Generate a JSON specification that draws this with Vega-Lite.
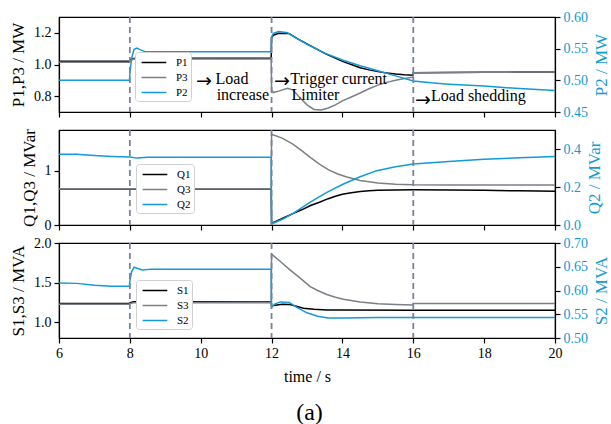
{
  "$schema": "https://vega.github.io/schema/vega-lite/v6.json",
  "padding": {"left": 8, "top": 9, "right": 2, "bottom": 0},
  "title": {"text": "(a)", "orient": "bottom", "anchor": "middle", "fontSize": 24, "font": "Liberation Serif", "fontWeight": "normal", "offset": 16, "color": "#000"},
  "datasets": {
    "p": [
      {"t": 6, "k": "P1", "v": 1.02}, {"t": 7.99, "k": "P1", "v": 1.02}, {"t": 8.0, "k": "P1", "v": 1.024}, {"t": 8.05, "k": "P1", "v": 1.036}, {"t": 8.2, "k": "P1", "v": 1.04}, {"t": 11.99, "k": "P1", "v": 1.04}, {"t": 12.0, "k": "P1", "v": 1.17}, {"t": 12.05, "k": "P1", "v": 1.185}, {"t": 12.2, "k": "P1", "v": 1.197}, {"t": 12.5, "k": "P1", "v": 1.195}, {"t": 12.75, "k": "P1", "v": 1.16}, {"t": 13.0, "k": "P1", "v": 1.13}, {"t": 13.25, "k": "P1", "v": 1.1}, {"t": 13.5, "k": "P1", "v": 1.07}, {"t": 13.75, "k": "P1", "v": 1.045}, {"t": 14.0, "k": "P1", "v": 1.02}, {"t": 14.25, "k": "P1", "v": 1.0}, {"t": 14.5, "k": "P1", "v": 0.98}, {"t": 14.75, "k": "P1", "v": 0.966}, {"t": 15.0, "k": "P1", "v": 0.955}, {"t": 15.25, "k": "P1", "v": 0.947}, {"t": 15.5, "k": "P1", "v": 0.94}, {"t": 15.75, "k": "P1", "v": 0.935}, {"t": 15.99, "k": "P1", "v": 0.932}, {"t": 16.0, "k": "P1", "v": 0.948}, {"t": 17, "k": "P1", "v": 0.95}, {"t": 18, "k": "P1", "v": 0.951}, {"t": 19, "k": "P1", "v": 0.952}, {"t": 20, "k": "P1", "v": 0.953},
      {"t": 6, "k": "P3", "v": 1.014}, {"t": 7.99, "k": "P3", "v": 1.014}, {"t": 8.0, "k": "P3", "v": 1.02}, {"t": 8.1, "k": "P3", "v": 1.035}, {"t": 11.99, "k": "P3", "v": 1.035}, {"t": 12.0, "k": "P3", "v": 0.84}, {"t": 12.05, "k": "P3", "v": 0.823}, {"t": 12.2, "k": "P3", "v": 0.832}, {"t": 12.45, "k": "P3", "v": 0.85}, {"t": 12.6, "k": "P3", "v": 0.84}, {"t": 12.8, "k": "P3", "v": 0.79}, {"t": 13.0, "k": "P3", "v": 0.745}, {"t": 13.2, "k": "P3", "v": 0.716}, {"t": 13.4, "k": "P3", "v": 0.713}, {"t": 13.6, "k": "P3", "v": 0.725}, {"t": 13.8, "k": "P3", "v": 0.745}, {"t": 14.0, "k": "P3", "v": 0.77}, {"t": 14.25, "k": "P3", "v": 0.795}, {"t": 14.5, "k": "P3", "v": 0.82}, {"t": 14.75, "k": "P3", "v": 0.847}, {"t": 15.0, "k": "P3", "v": 0.87}, {"t": 15.25, "k": "P3", "v": 0.887}, {"t": 15.5, "k": "P3", "v": 0.9}, {"t": 15.75, "k": "P3", "v": 0.912}, {"t": 15.99, "k": "P3", "v": 0.92}, {"t": 16.0, "k": "P3", "v": 0.948}, {"t": 17, "k": "P3", "v": 0.95}, {"t": 18, "k": "P3", "v": 0.951}, {"t": 19, "k": "P3", "v": 0.952}, {"t": 20, "k": "P3", "v": 0.953},
      {"t": 6, "k": "P2", "v": 0.5}, {"t": 7.99, "k": "P2", "v": 0.5}, {"t": 8.0, "k": "P2", "v": 0.51}, {"t": 8.05, "k": "P2", "v": 0.535}, {"t": 8.12, "k": "P2", "v": 0.549}, {"t": 8.2, "k": "P2", "v": 0.551}, {"t": 8.3, "k": "P2", "v": 0.548}, {"t": 8.45, "k": "P2", "v": 0.545}, {"t": 11.99, "k": "P2", "v": 0.545}, {"t": 12.0, "k": "P2", "v": 0.568}, {"t": 12.05, "k": "P2", "v": 0.574}, {"t": 12.2, "k": "P2", "v": 0.577}, {"t": 12.45, "k": "P2", "v": 0.575}, {"t": 12.75, "k": "P2", "v": 0.565}, {"t": 13.0, "k": "P2", "v": 0.557}, {"t": 13.5, "k": "P2", "v": 0.543}, {"t": 14.0, "k": "P2", "v": 0.532}, {"t": 14.5, "k": "P2", "v": 0.523}, {"t": 15.0, "k": "P2", "v": 0.515}, {"t": 15.5, "k": "P2", "v": 0.507}, {"t": 16.0, "k": "P2", "v": 0.499}, {"t": 16.5, "k": "P2", "v": 0.496}, {"t": 17, "k": "P2", "v": 0.494}, {"t": 18, "k": "P2", "v": 0.491}, {"t": 19, "k": "P2", "v": 0.487}, {"t": 20, "k": "P2", "v": 0.484}
    ],
    "q": [
      {"t": 6, "k": "Q1", "v": 0.66}, {"t": 11.99, "k": "Q1", "v": 0.66}, {"t": 12.0, "k": "Q1", "v": 0.03}, {"t": 12.3, "k": "Q1", "v": 0.12}, {"t": 12.6, "k": "Q1", "v": 0.21}, {"t": 12.85, "k": "Q1", "v": 0.28}, {"t": 13.1, "k": "Q1", "v": 0.36}, {"t": 13.35, "k": "Q1", "v": 0.42}, {"t": 13.6, "k": "Q1", "v": 0.485}, {"t": 13.8, "k": "Q1", "v": 0.53}, {"t": 14.0, "k": "Q1", "v": 0.565}, {"t": 14.25, "k": "Q1", "v": 0.595}, {"t": 14.5, "k": "Q1", "v": 0.615}, {"t": 14.75, "k": "Q1", "v": 0.63}, {"t": 15.0, "k": "Q1", "v": 0.638}, {"t": 15.5, "k": "Q1", "v": 0.646}, {"t": 16, "k": "Q1", "v": 0.65}, {"t": 17, "k": "Q1", "v": 0.647}, {"t": 18, "k": "Q1", "v": 0.638}, {"t": 19, "k": "Q1", "v": 0.63}, {"t": 20, "k": "Q1", "v": 0.622},
      {"t": 6, "k": "Q3", "v": 0.665}, {"t": 11.99, "k": "Q3", "v": 0.665}, {"t": 12.0, "k": "Q3", "v": 1.67}, {"t": 12.3, "k": "Q3", "v": 1.6}, {"t": 12.6, "k": "Q3", "v": 1.49}, {"t": 12.85, "k": "Q3", "v": 1.37}, {"t": 13.1, "k": "Q3", "v": 1.24}, {"t": 13.35, "k": "Q3", "v": 1.12}, {"t": 13.6, "k": "Q3", "v": 1.02}, {"t": 13.85, "k": "Q3", "v": 0.945}, {"t": 14.1, "k": "Q3", "v": 0.89}, {"t": 14.5, "k": "Q3", "v": 0.82}, {"t": 15.0, "k": "Q3", "v": 0.775}, {"t": 15.5, "k": "Q3", "v": 0.752}, {"t": 16, "k": "Q3", "v": 0.742}, {"t": 17, "k": "Q3", "v": 0.739}, {"t": 18, "k": "Q3", "v": 0.738}, {"t": 20, "k": "Q3", "v": 0.737},
      {"t": 6, "k": "Q2", "v": 0.373}, {"t": 6.5, "k": "Q2", "v": 0.372}, {"t": 7.0, "k": "Q2", "v": 0.366}, {"t": 7.5, "k": "Q2", "v": 0.361}, {"t": 8.0, "k": "Q2", "v": 0.358}, {"t": 8.2, "k": "Q2", "v": 0.352}, {"t": 8.5, "k": "Q2", "v": 0.356}, {"t": 11.99, "k": "Q2", "v": 0.356}, {"t": 12.0, "k": "Q2", "v": 0.005}, {"t": 12.3, "k": "Q2", "v": 0.03}, {"t": 12.61, "k": "Q2", "v": 0.061}, {"t": 13.08, "k": "Q2", "v": 0.119}, {"t": 13.56, "k": "Q2", "v": 0.172}, {"t": 14.03, "k": "Q2", "v": 0.216}, {"t": 14.5, "k": "Q2", "v": 0.254}, {"t": 14.97, "k": "Q2", "v": 0.286}, {"t": 15.5, "k": "Q2", "v": 0.307}, {"t": 16.0, "k": "Q2", "v": 0.321}, {"t": 17, "k": "Q2", "v": 0.334}, {"t": 18, "k": "Q2", "v": 0.346}, {"t": 19, "k": "Q2", "v": 0.354}, {"t": 20, "k": "Q2", "v": 0.361}
    ],
    "s": [
      {"t": 6, "k": "S1", "v": 1.235}, {"t": 7.99, "k": "S1", "v": 1.235}, {"t": 8.0, "k": "S1", "v": 1.245}, {"t": 8.1, "k": "S1", "v": 1.257}, {"t": 11.99, "k": "S1", "v": 1.255}, {"t": 12.0, "k": "S1", "v": 1.2}, {"t": 12.1, "k": "S1", "v": 1.215}, {"t": 12.3, "k": "S1", "v": 1.225}, {"t": 12.52, "k": "S1", "v": 1.222}, {"t": 12.75, "k": "S1", "v": 1.195}, {"t": 12.9, "k": "S1", "v": 1.175}, {"t": 13.2, "k": "S1", "v": 1.162}, {"t": 13.56, "k": "S1", "v": 1.155}, {"t": 14, "k": "S1", "v": 1.153}, {"t": 16, "k": "S1", "v": 1.152}, {"t": 20, "k": "S1", "v": 1.152},
      {"t": 6, "k": "S3", "v": 1.225}, {"t": 7.99, "k": "S3", "v": 1.225}, {"t": 8.0, "k": "S3", "v": 1.235}, {"t": 8.1, "k": "S3", "v": 1.245}, {"t": 11.99, "k": "S3", "v": 1.245}, {"t": 12.0, "k": "S3", "v": 1.86}, {"t": 12.05, "k": "S3", "v": 1.84}, {"t": 12.24, "k": "S3", "v": 1.77}, {"t": 12.52, "k": "S3", "v": 1.66}, {"t": 12.8, "k": "S3", "v": 1.56}, {"t": 13.09, "k": "S3", "v": 1.45}, {"t": 13.3, "k": "S3", "v": 1.4}, {"t": 13.56, "k": "S3", "v": 1.35}, {"t": 13.8, "k": "S3", "v": 1.315}, {"t": 14.03, "k": "S3", "v": 1.29}, {"t": 14.5, "k": "S3", "v": 1.255}, {"t": 15.0, "k": "S3", "v": 1.232}, {"t": 15.5, "k": "S3", "v": 1.222}, {"t": 15.99, "k": "S3", "v": 1.217}, {"t": 16.0, "k": "S3", "v": 1.237}, {"t": 20, "k": "S3", "v": 1.237},
      {"t": 6, "k": "S2", "v": 0.616}, {"t": 6.5, "k": "S2", "v": 0.615}, {"t": 7.0, "k": "S2", "v": 0.611}, {"t": 7.5, "k": "S2", "v": 0.609}, {"t": 7.99, "k": "S2", "v": 0.609}, {"t": 8.0, "k": "S2", "v": 0.62}, {"t": 8.05, "k": "S2", "v": 0.64}, {"t": 8.12, "k": "S2", "v": 0.649}, {"t": 8.2, "k": "S2", "v": 0.647}, {"t": 8.35, "k": "S2", "v": 0.643}, {"t": 8.6, "k": "S2", "v": 0.645}, {"t": 11.99, "k": "S2", "v": 0.645}, {"t": 12.0, "k": "S2", "v": 0.565}, {"t": 12.1, "k": "S2", "v": 0.572}, {"t": 12.25, "k": "S2", "v": 0.576}, {"t": 12.5, "k": "S2", "v": 0.575}, {"t": 12.7, "k": "S2", "v": 0.565}, {"t": 13.0, "k": "S2", "v": 0.553}, {"t": 13.3, "k": "S2", "v": 0.546}, {"t": 13.6, "k": "S2", "v": 0.542}, {"t": 14, "k": "S2", "v": 0.542}, {"t": 15, "k": "S2", "v": 0.543}, {"t": 20, "k": "S2", "v": 0.543}
    ],
    "ev": [{"t": 8}, {"t": 12}, {"t": 16}],
    "ann": [
      {"t": 10.42, "v": 0.877, "label": "Load"},
      {"t": 10.45, "v": 0.777, "label": "increase"},
      {"t": 12.53, "v": 0.877, "label": "Trigger current"},
      {"t": 12.56, "v": 0.777, "label": "Limiter"},
      {"t": 16.5, "v": 0.77, "label": "Load shedding"}
    ],
    "arr": [
      {"t": 9.87, "v": 0.898, "label": "→"},
      {"t": 12.07, "v": 0.898, "label": "→"},
      {"t": 16.05, "v": 0.777, "label": "→"}
    ]
  },
  "resolve": {"scale": {"color": "independent"}, "legend": {"color": "independent"}},
  "spacing": 18,
  "bounds": "flush",
  "vconcat": [
    {
      "width": 496, "height": 95,
      "layer": [
        {
          "data": {"name": "p"}, "transform": [{"filter": "datum.k !== 'P2'"}],
          "mark": {"type": "line", "strokeWidth": 1.5, "clip": true},
          "encoding": {
            "x": {"field": "t", "type": "quantitative", "scale": {"domain": [6, 20], "nice": false, "zero": false}, "axis": {"values": [6, 8, 10, 12, 14, 16, 18, 20], "labels": false, "title": null}},
            "y": {"field": "v", "type": "quantitative", "scale": {"domain": [0.7, 1.3], "nice": false, "zero": false}, "axis": {"values": [0.8, 1.0, 1.2], "format": ".1f", "title": "P1,P3 / MW"}},
            "color": {"field": "k", "type": "nominal", "scale": {"domain": ["P1", "P3", "P2"], "range": ["#000000", "#7b7f86", "#129ad6"]}, "legend": {"orient": "none", "legendX": 76, "legendY": 35}}
          }
        },
        {
          "data": {"name": "p"}, "transform": [{"filter": "datum.k === 'P2'"}],
          "mark": {"type": "line", "strokeWidth": 1.5, "clip": true},
          "encoding": {
            "x": {"field": "t", "type": "quantitative", "scale": {"domain": [6, 20], "nice": false, "zero": false}},
            "y": {"field": "v", "type": "quantitative", "scale": {"domain": [0.45, 0.6], "nice": false, "zero": false}, "axis": {"orient": "right", "values": [0.45, 0.5, 0.55, 0.6], "format": ".2f", "title": "P2 / MW", "labelColor": "#129ad6", "titleColor": "#129ad6", "titleAngle": 270, "titleBaseline": "top"}},
            "color": {"field": "k", "type": "nominal", "scale": {"domain": ["P1", "P3", "P2"], "range": ["#000000", "#7b7f86", "#129ad6"]}, "legend": {"orient": "none", "legendX": 76, "legendY": 35}}
          }
        },
        {
          "data": {"name": "ann"},
          "mark": {"type": "text", "align": "left", "baseline": "alphabetic", "fontSize": 16, "font": "Liberation Serif", "color": "#000"},
          "encoding": {
            "x": {"field": "t", "type": "quantitative", "scale": {"domain": [6, 20], "nice": false, "zero": false}},
            "y": {"field": "v", "type": "quantitative", "scale": {"domain": [0.7, 1.3], "nice": false, "zero": false}, "axis": null},
            "text": {"field": "label"}
          }
        },
        {
          "data": {"name": "arr"},
          "mark": {"type": "text", "align": "left", "baseline": "middle", "fontSize": 19, "font": "DejaVu Sans", "color": "#000"},
          "encoding": {
            "x": {"field": "t", "type": "quantitative", "scale": {"domain": [6, 20], "nice": false, "zero": false}},
            "y": {"field": "v", "type": "quantitative", "scale": {"domain": [0.7, 1.3], "nice": false, "zero": false}, "axis": null},
            "text": {"field": "label"}
          }
        },
        {
          "data": {"name": "ev"},
          "mark": {"type": "rule", "strokeDash": [6, 4], "color": "#7a8296", "strokeWidth": 1.8},
          "encoding": {"x": {"field": "t", "type": "quantitative", "scale": {"domain": [6, 20], "nice": false, "zero": false}}}
        }
      ],
      "resolve": {"scale": {"y": "independent"}}
    },
    {
      "width": 496, "height": 95,
      "layer": [
        {
          "data": {"name": "q"}, "transform": [{"filter": "datum.k !== 'Q2'"}],
          "mark": {"type": "line", "strokeWidth": 1.5, "clip": true},
          "encoding": {
            "x": {"field": "t", "type": "quantitative", "scale": {"domain": [6, 20], "nice": false, "zero": false}, "axis": {"values": [6, 8, 10, 12, 14, 16, 18, 20], "labels": false, "title": null}},
            "y": {"field": "v", "type": "quantitative", "scale": {"domain": [0, 1.75], "nice": false, "zero": false}, "axis": {"values": [0, 1], "format": "d", "title": "Q1,Q3 / MVar"}},
            "color": {"field": "k", "type": "nominal", "scale": {"domain": ["Q1", "Q3", "Q2"], "range": ["#000000", "#7b7f86", "#129ad6"]}, "legend": {"orient": "none", "legendX": 77, "legendY": 34}}
          }
        },
        {
          "data": {"name": "q"}, "transform": [{"filter": "datum.k === 'Q2'"}],
          "mark": {"type": "line", "strokeWidth": 1.5, "clip": true},
          "encoding": {
            "x": {"field": "t", "type": "quantitative", "scale": {"domain": [6, 20], "nice": false, "zero": false}},
            "y": {"field": "v", "type": "quantitative", "scale": {"domain": [0, 0.5], "nice": false, "zero": false}, "axis": {"orient": "right", "values": [0, 0.2, 0.4], "format": ".1f", "title": "Q2 / MVar", "labelColor": "#129ad6", "titleColor": "#129ad6", "titleAngle": 270, "titleBaseline": "top"}},
            "color": {"field": "k", "type": "nominal", "scale": {"domain": ["Q1", "Q3", "Q2"], "range": ["#000000", "#7b7f86", "#129ad6"]}, "legend": {"orient": "none", "legendX": 77, "legendY": 34}}
          }
        },
        {
          "data": {"name": "ev"},
          "mark": {"type": "rule", "strokeDash": [6, 4], "color": "#7a8296", "strokeWidth": 1.8},
          "encoding": {"x": {"field": "t", "type": "quantitative", "scale": {"domain": [6, 20], "nice": false, "zero": false}}}
        }
      ],
      "resolve": {"scale": {"y": "independent"}}
    },
    {
      "width": 496, "height": 95,
      "layer": [
        {
          "data": {"name": "s"}, "transform": [{"filter": "datum.k !== 'S2'"}],
          "mark": {"type": "line", "strokeWidth": 1.5, "clip": true},
          "encoding": {
            "x": {"field": "t", "type": "quantitative", "scale": {"domain": [6, 20], "nice": false, "zero": false}, "axis": {"values": [6, 8, 10, 12, 14, 16, 18, 20], "format": "d", "title": "time / s", "titleFontSize": 16, "titlePadding": 8}},
            "y": {"field": "v", "type": "quantitative", "scale": {"domain": [0.8, 2.0], "nice": false, "zero": false}, "axis": {"values": [1.0, 1.5, 2.0], "format": ".1f", "title": "S1,S3 / MVA"}},
            "color": {"field": "k", "type": "nominal", "scale": {"domain": ["S1", "S3", "S2"], "range": ["#000000", "#7b7f86", "#129ad6"]}, "legend": {"orient": "none", "legendX": 77, "legendY": 37}}
          }
        },
        {
          "data": {"name": "s"}, "transform": [{"filter": "datum.k === 'S2'"}],
          "mark": {"type": "line", "strokeWidth": 1.5, "clip": true},
          "encoding": {
            "x": {"field": "t", "type": "quantitative", "scale": {"domain": [6, 20], "nice": false, "zero": false}},
            "y": {"field": "v", "type": "quantitative", "scale": {"domain": [0.5, 0.7], "nice": false, "zero": false}, "axis": {"orient": "right", "values": [0.5, 0.55, 0.6, 0.65, 0.7], "format": ".2f", "title": "S2 / MVA", "labelColor": "#129ad6", "titleColor": "#129ad6", "titleAngle": 270, "titleBaseline": "top"}},
            "color": {"field": "k", "type": "nominal", "scale": {"domain": ["S1", "S3", "S2"], "range": ["#000000", "#7b7f86", "#129ad6"]}, "legend": {"orient": "none", "legendX": 77, "legendY": 37}}
          }
        },
        {
          "data": {"name": "ev"},
          "mark": {"type": "rule", "strokeDash": [6, 4], "color": "#7a8296", "strokeWidth": 1.8},
          "encoding": {"x": {"field": "t", "type": "quantitative", "scale": {"domain": [6, 20], "nice": false, "zero": false}}}
        }
      ],
      "resolve": {"scale": {"y": "independent"}}
    }
  ],
  "config": {
    "font": "Liberation Serif",
    "background": "white",
    "view": {"stroke": "#000", "strokeWidth": 1.2},
    "axis": {"grid": false, "domainColor": "#000", "domainWidth": 1.2, "tickColor": "#000", "tickWidth": 1.2, "tickSize": 5, "labelColor": "#000", "titleColor": "#000", "labelFont": "Liberation Serif", "titleFont": "Liberation Serif", "labelFontSize": 14, "titleFontSize": 17, "titleFontWeight": "normal", "labelPadding": 3, "titlePadding": 6, "labelFlush": false, "labelOverlap": false},
    "legend": {"title": null, "symbolType": "M-0.6,0H3.2", "symbolSize": 169, "symbolStrokeWidth": 1.5, "labelFont": "Liberation Serif", "labelFontSize": 11, "labelColor": "#000", "fillColor": "white", "strokeColor": "#d0d0d0", "cornerRadius": 3, "padding": 3, "rowPadding": 2, "labelOffset": 23}
  }
}
